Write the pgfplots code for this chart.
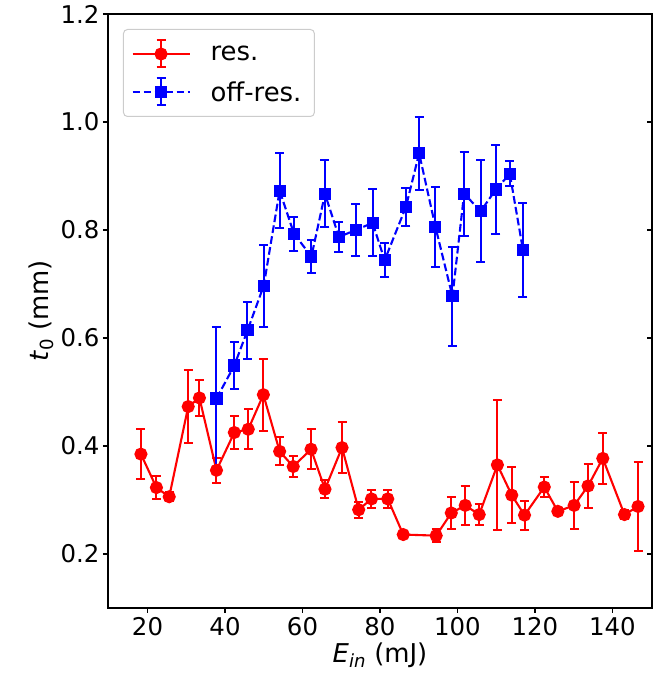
\documentclass[border=0pt]{standalone}
\usepackage{pgfplots}
\pgfplotsset{compat=1.18}
\usepackage{pgfplotstable}
\usepackage{fontspec}
\setmainfont{DejaVu Sans}

\pgfplotstableread{
x y ey
18.3 0.385 0.047
22.3 0.323 0.022
25.6 0.306 0.008
30.5 0.473 0.067
33.4 0.489 0.034
37.8 0.355 0.023
42.4 0.425 0.030
46.0 0.431 0.037
49.9 0.495 0.067
54.1 0.390 0.026
57.6 0.362 0.019
62.2 0.394 0.037
65.8 0.320 0.017
70.2 0.397 0.047
74.5 0.282 0.015
77.8 0.302 0.017
82.0 0.302 0.017
86.0 0.236 0.005
94.5 0.234 0.012
98.4 0.276 0.030
102.0 0.290 0.036
105.6 0.273 0.020
110.3 0.365 0.121
114.0 0.309 0.052
117.3 0.272 0.027
122.4 0.324 0.018
125.9 0.279 0.004
130.1 0.290 0.044
133.7 0.326 0.041
137.5 0.377 0.047
143.1 0.273 0.008
146.6 0.288 0.083
}\resdata

\pgfplotstableread{
x y ey
37.8 0.488 0.132
42.4 0.549 0.043
45.8 0.614 0.052
50.0 0.697 0.076
54.1 0.873 0.069
57.8 0.793 0.031
62.3 0.751 0.031
65.8 0.867 0.062
69.4 0.787 0.028
73.7 0.800 0.048
78.1 0.813 0.062
81.2 0.744 0.031
86.7 0.843 0.035
90.1 0.942 0.068
94.3 0.806 0.074
98.7 0.677 0.091
101.7 0.867 0.078
106.0 0.835 0.094
109.9 0.875 0.083
113.5 0.904 0.023
116.9 0.763 0.087
}\offdata

\begin{document}
\begin{tikzpicture}
\pgfplotsset{
  common/.style={
    scale only axis, width=544bp, height=594bp,
    xmin=9.8, xmax=150.2, ymin=0.1, ymax=1.2,
  },
  errlegend/.style={
    legend image code/.code={
      \draw[##1, mark=none] (0bp,0bp) -- (57bp,0bp);
      \draw[##1, solid, mark=none, line width=2bp] (28.5bp,-13.5bp) -- (28.5bp,13.5bp);
      \draw[##1, solid, mark=none, line width=2bp] (24bp,-13.5bp) -- (33bp,-13.5bp) (24bp,13.5bp) -- (33bp,13.5bp);
      \draw[##1, solid] plot coordinates {(28.5bp,0bp)};
    }
  },
}
\begin{axis}[common,
  axis line style={line width=1.1bp},
  xtick={20,40,...,140},
  ytick={0.2,0.4,...,1.2},
  xtick pos=bottom, ytick pos=left,
  tick align=outside,
  major tick length=5bp,
  tick style={line width=1.1bp, black},
  /pgf/number format/assume math mode=true,
  yticklabel style={/pgf/number format/.cd, fixed, fixed zerofill, precision=1},
  tick label style={font=\fontsize{24.5}{29}\selectfont},
  xticklabel style={yshift=-1bp},
  label style={font=\fontsize{26}{31}\selectfont},
  xlabel={\textit{E}\textsubscript{\textit{in}} (mJ)},
  ylabel={\textit{t}\textsubscript{0} (mm)},
  legend cell align=left,
  legend style={at={(rel axis cs:0,1)}, xshift=15bp, yshift=-15bp, anchor=north west,
    draw=black!20, line width=1bp, rounded corners=4bp,
    font=\fontsize{26}{31}\selectfont, inner xsep=8bp, inner ysep=10bp,
    nodes={inner sep=1bp}, column sep=19bp, row sep=9bp},
]
\addplot[red, line width=2.1bp, mark=*, mark size=5.5bp,
  mark options={solid}, errlegend,
  error bars/.cd, y dir=both, y explicit,
  error bar style={line width=2bp, solid},
  error mark options={rotate=90, mark size=4.5bp, line width=2bp, solid},
] table[x=x, y=y, y error=ey] {\resdata};
\addlegendentry{res.}

\addplot[blue, line width=2.1bp, dash pattern=on 7.7bp off 3.3bp, mark=square*, mark size=5bp,
  mark options={solid}, errlegend,
  error bars/.cd, y dir=both, y explicit,
  error bar style={line width=2bp, solid},
  error mark options={rotate=90, mark size=4.5bp, line width=2bp, solid},
] table[x=x, y=y, y error=ey] {\offdata};
\addlegendentry{off-res.\hspace*{4bp}}
\end{axis}
\begin{axis}[common,
  axis x line=none, axis y line*=right,
  axis line style={line width=1.1bp, -},
  ytick={0.2,0.4,...,1.2}, yticklabels={},
  tick align=inside, major tick length=5bp,
  tick style={line width=1.1bp, black},
]
\end{axis}
\path (current axis.south west) ++(-108bp,-70bp);
\path (current axis.north east) ++(10bp,14bp);
\end{tikzpicture}
\end{document}
